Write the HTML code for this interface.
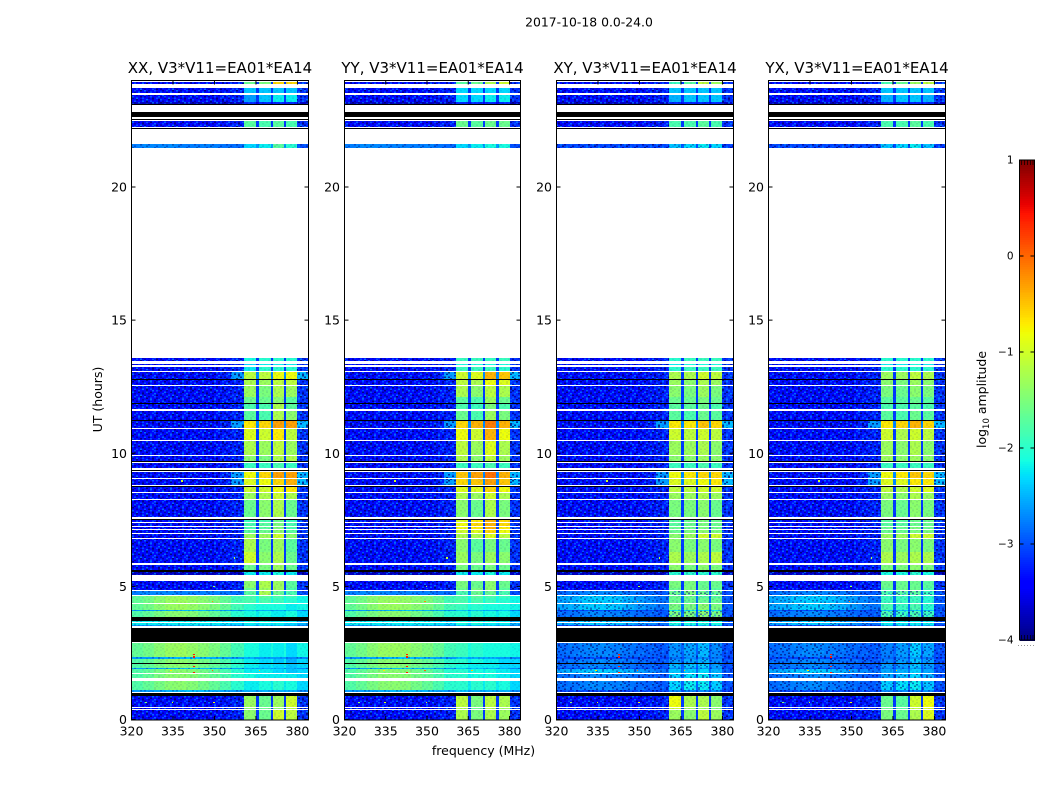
<!DOCTYPE html>
<html lang="en">
<head>
<meta charset="utf-8">
<title>2017-10-18 0.0-24.0</title>
<style>
html,body{margin:0;padding:0;background:#fff;}
svg{display:block;font-family:"DejaVu Sans","Liberation Sans",sans-serif;fill:#000;}
</style>
</head>
<body>
<svg id="figure" xmlns="http://www.w3.org/2000/svg" width="1050" height="800" viewBox="0 0 1050 800">
  <defs>
    <pattern id="speckle" patternUnits="userSpaceOnUse" width="32" height="18"></pattern>
  </defs>
  <text x="589" y="26.5" font-size="12.4" text-anchor="middle">2017-10-18 0.0-24.0</text>
  <text x="483.5" y="755" font-size="12.5" text-anchor="middle">frequency (MHz)</text>
  <text transform="translate(102 399.5) rotate(-90)" font-size="12.5" text-anchor="middle">UT (hours)</text>
  <text transform="translate(986 399.5) rotate(-90)" font-size="12.5" text-anchor="middle">log<tspan font-size="8.5" dy="3">10</tspan><tspan dy="-3"> amplitude</tspan></text>
</svg>
<script>
// ---------- axis data ----------
const freqTicks = [320, 335, 350, 365, 380];
const hourTicks = [0, 5, 10, 15, 20];
const colorbarTicks = [1, 0, -1, -2, -3, -4];
const panelTitles = ['XX, V3*V11=EA01*EA14', 'YY, V3*V11=EA01*EA14', 'XY, V3*V11=EA01*EA14', 'YX, V3*V11=EA01*EA14'];

// frequency column edges in MHz: ten off-band columns, then band / gap columns, then one right off-band column
const freqEdges = [320, 324, 328, 332, 336, 340, 344, 348, 352, 356, 360.5, 365, 366, 370.5, 371, 375, 376, 380, 384];

// time rows in hours (UT)
const rowStart = [23.85,23.53,23.19,23.13,22.27,21.48,13.45,13.31,13.10,12.80,12.58,12.13,11.89,11.66,11.24,10.94,10.49,9.92,9.70,9.44,9.06,8.80,8.54,8.27,7.62,7.41,7.28,7.17,7.02,6.81,6.28,5.87,5.61,5.42,4.95,4.86,4.69,4.57,4.38,4.11,4.07,3.85,3.66,3.55,3.51,2.35,2.29,2.12,1.93,1.90,1.74,1.54,1.11,1.05,0.47,0.41,0.00];
const rowEnd = [23.96,23.70,23.47,23.19,22.47,21.63,13.57,13.37,13.24,13.06,12.76,12.53,12.10,11.86,11.59,11.20,10.90,10.45,9.89,9.64,9.31,9.02,8.74,8.50,8.24,7.49,7.37,7.24,7.11,6.98,6.77,6.28,5.82,5.53,5.22,4.93,4.82,4.64,4.56,4.34,4.11,4.07,3.70,3.62,3.55,2.87,2.35,2.29,2.08,1.93,1.90,1.71,1.46,1.11,0.90,0.45,0.37];

// intervals with zero amplitude, drawn black
const blackStart = [23.10,22.63,22.51,22.20,12.76,11.86,11.20,9.66,9.32,8.74,7.49,5.53,3.70,2.91,2.08,0.90];
const blackEnd = [23.13,22.83,22.57,22.23,12.80,11.89,11.24,9.70,9.38,8.78,7.53,5.61,3.85,3.45,2.12,1.01];

// off-band log10 amplitude: ten left columns, gap between bands, right column
const offProfiles = [
  [-3.35,-3.35,-3.35,-3.35,-3.35,-3.35,-3.35,-3.35,-3.3,-3.25,-3.1,-3.15],
  [-3.7,-3.7,-3.7,-3.7,-3.7,-3.7,-3.7,-3.7,-3.7,-3.7,-3.5,-3.7],
  [-2.75,-2.7,-2.7,-2.7,-2.75,-2.75,-2.75,-2.75,-2.8,-2.85,-2.6,-3.0],
  [-3.35,-3.35,-3.35,-3.35,-3.35,-3.35,-3.35,-3.35,-3.25,-2.6,-2.7,-2.45],
  [-1.65,-1.55,-1.42,-1.32,-1.3,-1.35,-1.42,-1.5,-1.65,-1.85,-2.1,-2.15],
  [-1.75,-1.65,-1.52,-1.42,-1.4,-1.45,-1.55,-1.65,-1.8,-2.0,-2.2,-2.3],
  [-2.6,-2.6,-2.55,-2.5,-2.45,-2.4,-2.45,-2.5,-2.55,-2.6,-2.6,-2.7],
  [-2.2,-2.2,-2.2,-2.2,-2.2,-2.2,-2.2,-2.2,-2.25,-2.3,-2.3,-2.5],
  [-2.85,-2.8,-2.75,-2.7,-2.7,-2.75,-2.8,-2.85,-2.9,-2.95,-2.9,-3.0],
  [-2.55,-2.5,-2.4,-2.35,-2.35,-2.4,-2.5,-2.6,-2.7,-2.8,-2.8,-2.95],
  [-3.05,-3.05,-3.05,-3.05,-3.05,-3.05,-3.05,-3.05,-3.05,-3.05,-3.0,-3.1]
];
// opacity of the noise texture for each off-band profile, and over the bands
const offTexture = [1,1,.5,1,.1,.12,.4,.3,.8,.6,.9];
const bandTexture = [.12,.3,.2,.12,.05,.1,.2,.1,.7,.2,.5];

// off-band profile index for every time row
const copolOff = [0,0,0,1,0,2,0,0,0,3,0,0,0,0,0,3,0,0,0,0,3,3,0,0,0,0,0,0,0,0,0,0,0,1,0,0,2,4,4,4,6,5,7,7,6,4,6,5,5,6,5,5,5,6,0,0,0];
const crossOff = [0,0,0,1,0,10,0,0,0,0,0,0,0,0,0,3,0,0,0,0,3,3,0,0,0,0,0,0,0,0,0,0,0,1,0,0,8,9,9,9,10,8,9,9,10,8,10,8,8,10,9,8,8,10,0,0,0];

// in-band log10 amplitude per time row, one array per polarisation
const xxBands = [
[-1.6,-1.5,-.6,-.6],[-2.4,-2.4,-2.4,-2.4],[-2.6,-2.4,-2.2,-2.2],[-3.2,-3.2,-3.2,-3.2],[-1.7,-1.8,-1.7,-1.8],[-2.3,-2.2,-1.7,-2.0],
[-2.1,-2.0,-2.0,-2.0],[-2.3,-2.2,-2.2,-2.2],[-2.2,-2.0,-2.0,-2.0],[-1.1,-1.1,-.8,-.8],[-1.2,-1.3,-1.1,-1.1],[-1.3,-1.5,-1.2,-1.3],
[-1.6,-1.6,-1.4,-1.7],[-1.8,-1.8,-1.2,-1.7],[-1.7,-1.8,-1.2,-1.4],[-.7,-.6,-.3,-.3],[-.9,-1.0,-.7,-1.1],[-1.2,-1.3,-1.1,-1.3],
[-1.4,-1.5,-1.2,-1.2],[-1.9,-1.9,-1.8,-1.9],[-.8,-.6,-.3,-.3],[-.9,-.8,-.6,-.4],[-1.0,-1.0,-.8,-.7],[-1.3,-1.2,-1.0,-1.2],
[-1.6,-1.4,-1.2,-1.6],[-1.9,-1.8,-1.6,-1.9],[-1.8,-1.7,-1.5,-1.8],[-1.8,-1.7,-1.5,-1.8],[-1.7,-1.6,-1.4,-1.7],[-1.3,-1.3,-1.0,-1.4],
[-1.2,-1.5,-1.3,-1.7],[-1.0,-1.4,-1.2,-1.6],[-1.6,-1.5,-1.3,-1.6],[-2.2,-2.2,-2.1,-2.2],[-1.4,-1.2,-1.3,-1.7],[-1.6,-1.3,-1.3,-1.8],
[-1.7,-1.2,-1.6,-1.8],[-1.8,-1.7,-1.8,-1.9],[-1.8,-1.8,-1.9,-2.0],[-2.0,-2.1,-2.1,-2.2],[-2.4,-2.5,-2.5,-2.4],[-2.1,-2.1,-2.2,-2.1],
[-2.1,-2.1,-2.2,-2.2],[-2.2,-2.2,-2.2,-2.3],[-2.4,-2.4,-2.4,-2.5],[-2.1,-2.2,-2.2,-2.3],[-2.5,-2.6,-2.6,-2.7],[-2.2,-2.3,-2.4,-2.5],
[-2.2,-2.3,-2.3,-2.4],[-2.5,-2.5,-2.5,-2.5],[-2.2,-2.2,-2.3,-2.4],[-2.1,-2.2,-2.2,-2.2],[-2.2,-2.1,-2.0,-2.1],[-2.5,-2.5,-2.5,-2.5],
[-1.3,-1.6,-1.3,-1.0],[-1.4,-1.6,-1.4,-1.1],[-1.4,-1.6,-1.0,-1.1]
];
const yyBands = [
[-1.7,-1.6,-1.2,-1.0],[-2.3,-2.3,-2.3,-2.3],[-2.3,-2.3,-2.2,-2.2],[-3.2,-3.2,-3.2,-3.2],[-1.6,-1.7,-1.6,-1.6],[-2.3,-2.2,-2.1,-2.1],
[-1.9,-1.9,-1.9,-1.9],[-2.1,-2.1,-2.1,-2.1],[-1.9,-1.9,-1.9,-2.0],[-1.0,-.9,-.4,-.5],[-1.1,-1.2,-.8,-.9],[-1.2,-1.4,-1.1,-1.2],
[-1.7,-1.8,-1.3,-1.6],[-1.8,-1.9,-1.5,-1.8],[-1.6,-1.8,-1.3,-1.5],[-.6,-.4,-.1,-.4],[-.8,-1.0,-.4,-.8],[-1.1,-1.3,-.9,-1.2],
[-1.2,-1.4,-1.1,-1.3],[-1.9,-1.9,-1.8,-1.9],[-.5,-.3,-.05,-.4],[-.6,-.5,-.3,-.5],[-.9,-.9,-.6,-.8],[-1.2,-1.3,-1.0,-1.2],
[-1.4,-1.6,-1.2,-1.5],[-.9,-.7,-.4,-.6],[-.8,-.6,-.4,-.6],[-.8,-.7,-.4,-.7],[-1.0,-.9,-.6,-.8],[-1.2,-1.2,-.9,-1.1],
[-1.4,-1.7,-1.5,-1.6],[-1.3,-1.5,-1.3,-1.4],[-1.5,-1.6,-1.5,-1.6],[-2.2,-2.2,-2.1,-2.2],[-1.5,-1.6,-1.4,-1.6],[-1.6,-1.5,-1.4,-1.7],
[-1.8,-1.6,-1.6,-1.8],[-1.8,-1.7,-1.8,-1.9],[-1.8,-1.8,-1.9,-2.0],[-1.9,-2.0,-2.1,-2.1],[-2.4,-2.4,-2.5,-2.4],[-2.0,-2.0,-2.1,-2.1],
[-2.1,-2.1,-2.1,-2.2],[-2.1,-2.1,-2.2,-2.2],[-2.4,-2.4,-2.4,-2.5],[-1.9,-2.0,-2.1,-2.1],[-2.4,-2.5,-2.5,-2.6],[-2.0,-2.1,-2.2,-2.3],
[-2.1,-2.2,-2.2,-2.3],[-2.4,-2.4,-2.5,-2.5],[-2.0,-2.1,-2.1,-2.2],[-2.0,-2.1,-2.1,-2.2],[-2.0,-2.0,-2.0,-2.1],[-2.4,-2.5,-2.5,-2.5],
[-1.1,-1.5,-1.1,-1.2],[-1.2,-1.6,-1.2,-1.3],[-1.2,-1.5,-1.2,-1.3]
];
const xyBands = [
[-1.9,-1.7,-1.1,-1.3],[-2.4,-2.4,-2.4,-2.4],[-2.5,-2.4,-2.4,-2.4],[-3.2,-3.2,-3.2,-3.2],[-1.8,-1.8,-1.7,-1.8],[-2.4,-2.3,-2.2,-2.3],
[-2.0,-1.9,-1.9,-1.9],[-2.2,-2.1,-2.1,-2.1],[-2.0,-1.9,-1.9,-1.9],[-1.2,-1.2,-1.0,-1.1],[-1.3,-1.4,-1.2,-1.3],[-1.4,-1.5,-1.3,-1.5],
[-1.6,-1.6,-1.5,-1.6],[-1.7,-1.7,-1.6,-1.8],[-1.7,-1.8,-1.6,-1.7],[-.7,-.7,-.5,-.6],[-1.0,-1.1,-1.0,-1.1],[-1.3,-1.3,-1.2,-1.4],
[-1.4,-1.4,-1.3,-1.4],[-1.9,-1.9,-1.8,-1.9],[-.8,-.7,-.6,-.6],[-.9,-.9,-.8,-.7],[-1.1,-1.1,-1.0,-1.0],[-1.3,-1.3,-1.2,-1.3],
[-1.5,-1.5,-1.4,-1.6],[-1.7,-1.6,-1.5,-1.6],[-1.7,-1.6,-1.5,-1.6],[-1.6,-1.6,-1.5,-1.6],[-1.6,-1.5,-1.4,-1.5],[-1.4,-1.3,-1.0,-1.0],
[-1.4,-1.5,-1.4,-1.5],[-1.2,-1.3,-1.2,-1.1],[-1.4,-1.5,-1.4,-1.5],[-2.0,-2.0,-2.0,-2.0],[-1.5,-1.5,-1.6,-1.6],[-1.6,-1.5,-1.6,-1.7],
[-1.6,-1.5,-1.6,-1.6],[-1.6,-1.6,-1.7,-1.7],[-1.6,-1.6,-1.6,-1.6],[-1.5,-1.5,-1.4,-1.5],[-2.2,-2.2,-2.2,-2.2],[-1.5,-1.5,-1.4,-1.5],
[-2.1,-2.1,-2.1,-2.1],[-2.1,-2.1,-2.1,-2.1],[-2.4,-2.4,-2.4,-2.4],[-2.65,-2.55,-2.45,-2.7],[-2.8,-2.7,-2.7,-2.8],[-2.65,-2.55,-2.5,-2.7],
[-2.45,-2.4,-2.35,-2.6],[-2.7,-2.7,-2.6,-2.7],[-2.4,-2.35,-2.3,-2.5],[-2.3,-2.25,-2.2,-2.4],[-2.3,-2.2,-2.2,-2.35],[-2.7,-2.7,-2.7,-2.7],
[-.8,-1.2,-1.2,-1.4],[-1.0,-1.3,-1.3,-1.5],[-1.3,-1.4,-1.1,-1.3]
];
const yxBands = [
[-1.8,-1.6,-1.3,-1.1],[-2.4,-2.4,-2.4,-2.4],[-2.5,-2.4,-2.4,-2.5],[-3.2,-3.2,-3.2,-3.2],[-1.8,-1.8,-1.7,-1.8],[-2.4,-2.3,-2.2,-2.4],
[-2.0,-2.0,-2.0,-2.0],[-2.2,-2.2,-2.1,-2.2],[-2.0,-2.0,-2.0,-2.0],[-1.3,-1.3,-1.1,-1.2],[-1.4,-1.5,-1.3,-1.4],[-1.5,-1.6,-1.4,-1.5],
[-1.7,-1.7,-1.6,-1.7],[-1.8,-1.8,-1.7,-1.8],[-1.7,-1.8,-1.6,-1.7],[-.7,-.6,-.4,-.6],[-1.0,-1.2,-1.0,-1.1],[-1.3,-1.4,-1.2,-1.4],
[-1.3,-1.4,-1.3,-1.4],[-1.9,-1.9,-1.9,-1.9],[-.8,-.7,-.5,-.6],[-.9,-.9,-.7,-.7],[-1.1,-1.2,-1.0,-.9],[-1.3,-1.4,-1.2,-1.3],
[-1.5,-1.6,-1.4,-1.5],[-1.7,-1.7,-1.6,-1.6],[-1.7,-1.7,-1.6,-1.6],[-1.6,-1.6,-1.5,-1.6],[-1.6,-1.6,-1.5,-1.5],[-1.3,-1.3,-1.0,-1.0],
[-1.4,-1.5,-1.4,-1.5],[-1.2,-1.3,-1.2,-1.2],[-1.5,-1.5,-1.4,-1.5],[-2.1,-2.1,-2.0,-2.1],[-1.6,-1.6,-1.6,-1.7],[-1.7,-1.6,-1.6,-1.8],
[-1.8,-1.7,-1.7,-1.9],[-1.9,-1.9,-1.9,-2.0],[-1.9,-1.9,-1.9,-2.0],[-1.8,-1.9,-1.8,-2.0],[-2.4,-2.4,-2.3,-2.4],[-1.8,-1.9,-1.8,-1.9],
[-2.2,-2.2,-2.2,-2.2],[-2.2,-2.2,-2.2,-2.2],[-2.5,-2.5,-2.4,-2.5],[-2.75,-2.6,-2.35,-2.55],[-2.85,-2.75,-2.6,-2.8],[-2.75,-2.6,-2.4,-2.6],
[-2.6,-2.6,-2.4,-2.6],[-2.75,-2.75,-2.6,-2.75],[-2.55,-2.5,-2.35,-2.55],[-2.55,-2.45,-2.3,-2.5],[-2.35,-2.25,-2.2,-2.4],[-2.7,-2.7,-2.7,-2.7],
[-1.6,-1.7,-1.0,-.8],[-1.6,-1.7,-1.1,-.9],[-1.5,-1.6,-1.2,-.9]
];
const panelBands = [xxBands, yyBands, xyBands, yxBands];
const panelOff = [copolOff, copolOff, crossOff, crossOff];

// narrow interference spikes common to the panels
const spikeFreq = [342.4,342.4,342.4,342.4,334,349,349.5,334.5,325,349.5,349,366,338,357];
const spikeHour = [2.46,2.35,2.00,1.77,1.85,1.85,0.65,0.65,0.65,5.00,4.45,1.85,8.97,6.08];
const spikeLevel = [.4,.4,.4,.4,-.7,0,-.8,-.9,-1.4,-1.3,-.2,-.5,-1.0,-1.1];

const colorRange = [-4, 1];

// fixed texture tile that gives the quiet background its grainy look
const speckleTile = [
  ".d.l..k.c.d..l..",
  "l..d.c...k.l..d.",
  "..k..l.d...c.d.l",
  ".c..d...l.k..d..",
  "d.l...k.d..l...c",
  "..d.c..l..d.k.l.",
  "l...k.d..c..d..k",
  ".d.l...c.k.l...d",
  "k..d.l...d..c.l.",
  "..c..k.d.l.k...d",
  ".l.d...k..d..c..",
  "d...l.c.d...l.k."
];
const speckleInk = { d: ['#000090', .75], k: ['#000050', .7], l: ['#0070ff', .7], c: ['#00a8ff', .6] };

// ---------- layout and scales ----------
const svg = document.getElementById('figure');
const NS = 'http://www.w3.org/2000/svg';
const panelLeft = [131.5, 344.5, 556.5, 768.5];
const panelRight = [308.5, 520.5, 733.5, 945.5];
const plotTop = 80.5, plotBottom = 719.5, frameBottom = 720;
const freqMin = 320, freqMax = 384, hourMin = 0, hourMax = 24;

function xScale(p, f) { return panelLeft[p] + (f - freqMin) / (freqMax - freqMin) * (panelRight[p] - panelLeft[p]); }
function yScale(h) { return plotBottom - (h - hourMin) / (hourMax - hourMin) * (plotBottom - plotTop); }
function cbScale(v) { return 640 - (v - colorRange[0]) / (colorRange[1] - colorRange[0]) * 480; }

function interp(t, pts) {
  for (let i = 1; i < pts.length; i++) {
    if (t <= pts[i][0]) {
      const a = pts[i - 1], b = pts[i];
      return a[1] + (b[1] - a[1]) * (t - a[0]) / (b[0] - a[0]);
    }
  }
  return pts[pts.length - 1][1];
}
function jet(v) {
  const t = Math.max(0, Math.min(1, (v - colorRange[0]) / (colorRange[1] - colorRange[0])));
  const r = interp(t, [[0,0],[.35,0],[.66,1],[.89,1],[1,.5]]);
  const g = interp(t, [[0,0],[.125,0],[.375,1],[.64,1],[.91,0],[1,0]]);
  const b = interp(t, [[0,.5],[.11,1],[.34,1],[.65,0],[1,0]]);
  return 'rgb(' + Math.round(r * 255) + ',' + Math.round(g * 255) + ',' + Math.round(b * 255) + ')';
}
function mk(tag, parent) { const e = document.createElementNS(NS, tag); parent.appendChild(e); return e; }
function box(parent, x0, y0, x1, y1, fill) {
  const e = mk('rect', parent);
  const ax = Math.round(x0), ay = Math.round(y0), bx = Math.round(x1), by = Math.round(y1);
  e.setAttribute('x', ax);
  e.setAttribute('y', ay);
  e.setAttribute('width', Math.max(0, bx - ax));
  e.setAttribute('height', Math.max(1, by - ay));
  e.setAttribute('fill', fill);
  e.setAttribute('shape-rendering', 'crispEdges');
  return e;
}
function seg(parent, x1, y1, x2, y2, stroke, width) {
  const e = mk('line', parent);
  e.setAttribute('x1', x1);
  e.setAttribute('y1', y1);
  e.setAttribute('x2', x2);
  e.setAttribute('y2', y2);
  e.setAttribute('stroke', stroke || '#000');
  e.setAttribute('stroke-width', width || 1);
  return e;
}
function label(parent, x, y, str, size, anchor) {
  const e = mk('text', parent);
  e.setAttribute('x', x);
  e.setAttribute('y', y);
  e.setAttribute('font-size', size);
  e.setAttribute('text-anchor', anchor);
  e.textContent = str;
  return e;
}
function columnValue(col, band, off) {
  if (col < 10) return off[col];
  if (col === 17) return off[11];
  if (col % 2 === 0) return band[(col - 10) / 2];
  return off[10];
}

// build the texture tile
const pat = document.getElementById('speckle');
speckleTile.forEach(function (line, j) {
  line.split('').forEach(function (ch, i) {
    if (ch === '.') return;
    const s = document.createElementNS(NS, 'rect');
    s.setAttribute('x', i * 2);
    s.setAttribute('y', j * 1.5);
    s.setAttribute('width', 2);
    s.setAttribute('height', 1.5);
    s.setAttribute('fill', speckleInk[ch][0]);
    s.setAttribute('opacity', speckleInk[ch][1]);
    pat.appendChild(s);
  });
});

// ---------- panels ----------
panelTitles.forEach(function (title, p) {
  const g = mk('g', svg);
  
  

  rowStart.forEach(function (start, r) {
    const y0 = yScale(rowEnd[r]), y1 = yScale(start);
    const profile = panelOff[p][r];
    const off = offProfiles[profile];
    const band = panelBands[p][r];
    for (let c = 0; c < freqEdges.length - 1; c++) {
      const cell = box(g, xScale(p, freqEdges[c]), y0, xScale(p, freqEdges[c + 1]), y1, jet(columnValue(c, band, off)));
      
      
    }
    const texLeft = box(g, xScale(p, 320), y0, xScale(p, 360.5), y1, 'url(#speckle)');
    
    
    texLeft.setAttribute('opacity', offTexture[profile]);
    const texBand = box(g, xScale(p, 360.5), y0, xScale(p, 380), y1, 'url(#speckle)');
    
    
    texBand.setAttribute('opacity', bandTexture[profile]);
    const texRight = box(g, xScale(p, 380), y0, xScale(p, 384), y1, 'url(#speckle)');
    
    
    texRight.setAttribute('opacity', offTexture[profile]);
  });

  blackStart.forEach(function (start, i) {
    const bar = box(g, xScale(p, freqMin), yScale(blackEnd[i]), xScale(p, freqMax), yScale(start), '#000');
    
    
  });

  spikeFreq.forEach(function (f, i) {
    const dot = box(g, xScale(p, f), yScale(spikeHour[i]) - 0.5, xScale(p, f) + 1.5, yScale(spikeHour[i]) + 1, jet(spikeLevel[i]));
    
    
  });

  const frame = mk('rect', g);
  frame.setAttribute('x', panelLeft[p]);
  frame.setAttribute('y', plotTop);
  frame.setAttribute('width', panelRight[p] - panelLeft[p]);
  frame.setAttribute('height', frameBottom - plotTop);
  frame.setAttribute('fill', 'none');
  frame.setAttribute('stroke', '#000');
  frame.setAttribute('stroke-width', '1');
  
  

  const t = label(g, (panelLeft[p] + panelRight[p]) / 2, 73, title, 15, 'middle');
  
  

  freqTicks.forEach(function (f) {
    const x = xScale(p, f);
    const t1 = seg(g, x, frameBottom, x, frameBottom - 4);
    
    
    const t2 = seg(g, x, plotTop, x, plotTop + 4);
    
    
    const l = label(g, x, 735.5, String(f), 12.5, 'middle');
    
    
  });

  hourTicks.forEach(function (h) {
    const y = yScale(h);
    const t1 = seg(g, panelLeft[p], y, panelLeft[p] + 4, y);
    
    
    const t2 = seg(g, panelRight[p], y, panelRight[p] - 4, y);
    
    
    const l = label(g, panelLeft[p] - 4.5, y + 4.5, String(h), 12.5, 'end');
    
    
  });
});

// ---------- colour bar ----------
const cb = mk('g', svg);


const cbLeft = 1019.5, cbRight = 1034.5;
for (let v = colorRange[0]; v < colorRange[1]; v += 0.02) {
  const step = box(cb, cbLeft, cbScale(v + 0.02), cbRight, cbScale(v) + 1, jet(v + 0.01));
  
  
}
const cbFrame = mk('rect', cb);
cbFrame.setAttribute('x', cbLeft);
cbFrame.setAttribute('y', 160);
cbFrame.setAttribute('width', cbRight - cbLeft);
cbFrame.setAttribute('height', 480);
cbFrame.setAttribute('fill', 'none');
cbFrame.setAttribute('stroke', '#000');
cbFrame.setAttribute('stroke-width', '1');


colorbarTicks.forEach(function (v) {
  const y = cbScale(v);
  const a = seg(cb, cbLeft, y, cbLeft + 4, y);
  
  
  const b = seg(cb, cbRight, y, cbRight - 4, y);
  
  
  const l = label(cb, 1013.5, y + 3.5, v < 0 ? '\u2212' + Math.abs(v) : String(v), 10.5, 'end');
  
  
});
const minorX = [1021.5, 1024.5, 1027.5, 1030.5, 1033];
minorX.forEach(function (x) {
  const top = seg(cb, x, 160, x, 165, '#000', 0.7);
  
  
  const bot = seg(cb, x, 640, x, 635, '#000', 0.7);
  
  
});
const dotX = [1017.5, 1020.5, 1023.5, 1026.5, 1029.5, 1032.5];
dotX.forEach(function (x) {
  const d = box(cb, x, 645, x + 1, 646, '#999');
  
  
});
</script>
</body>
</html>
